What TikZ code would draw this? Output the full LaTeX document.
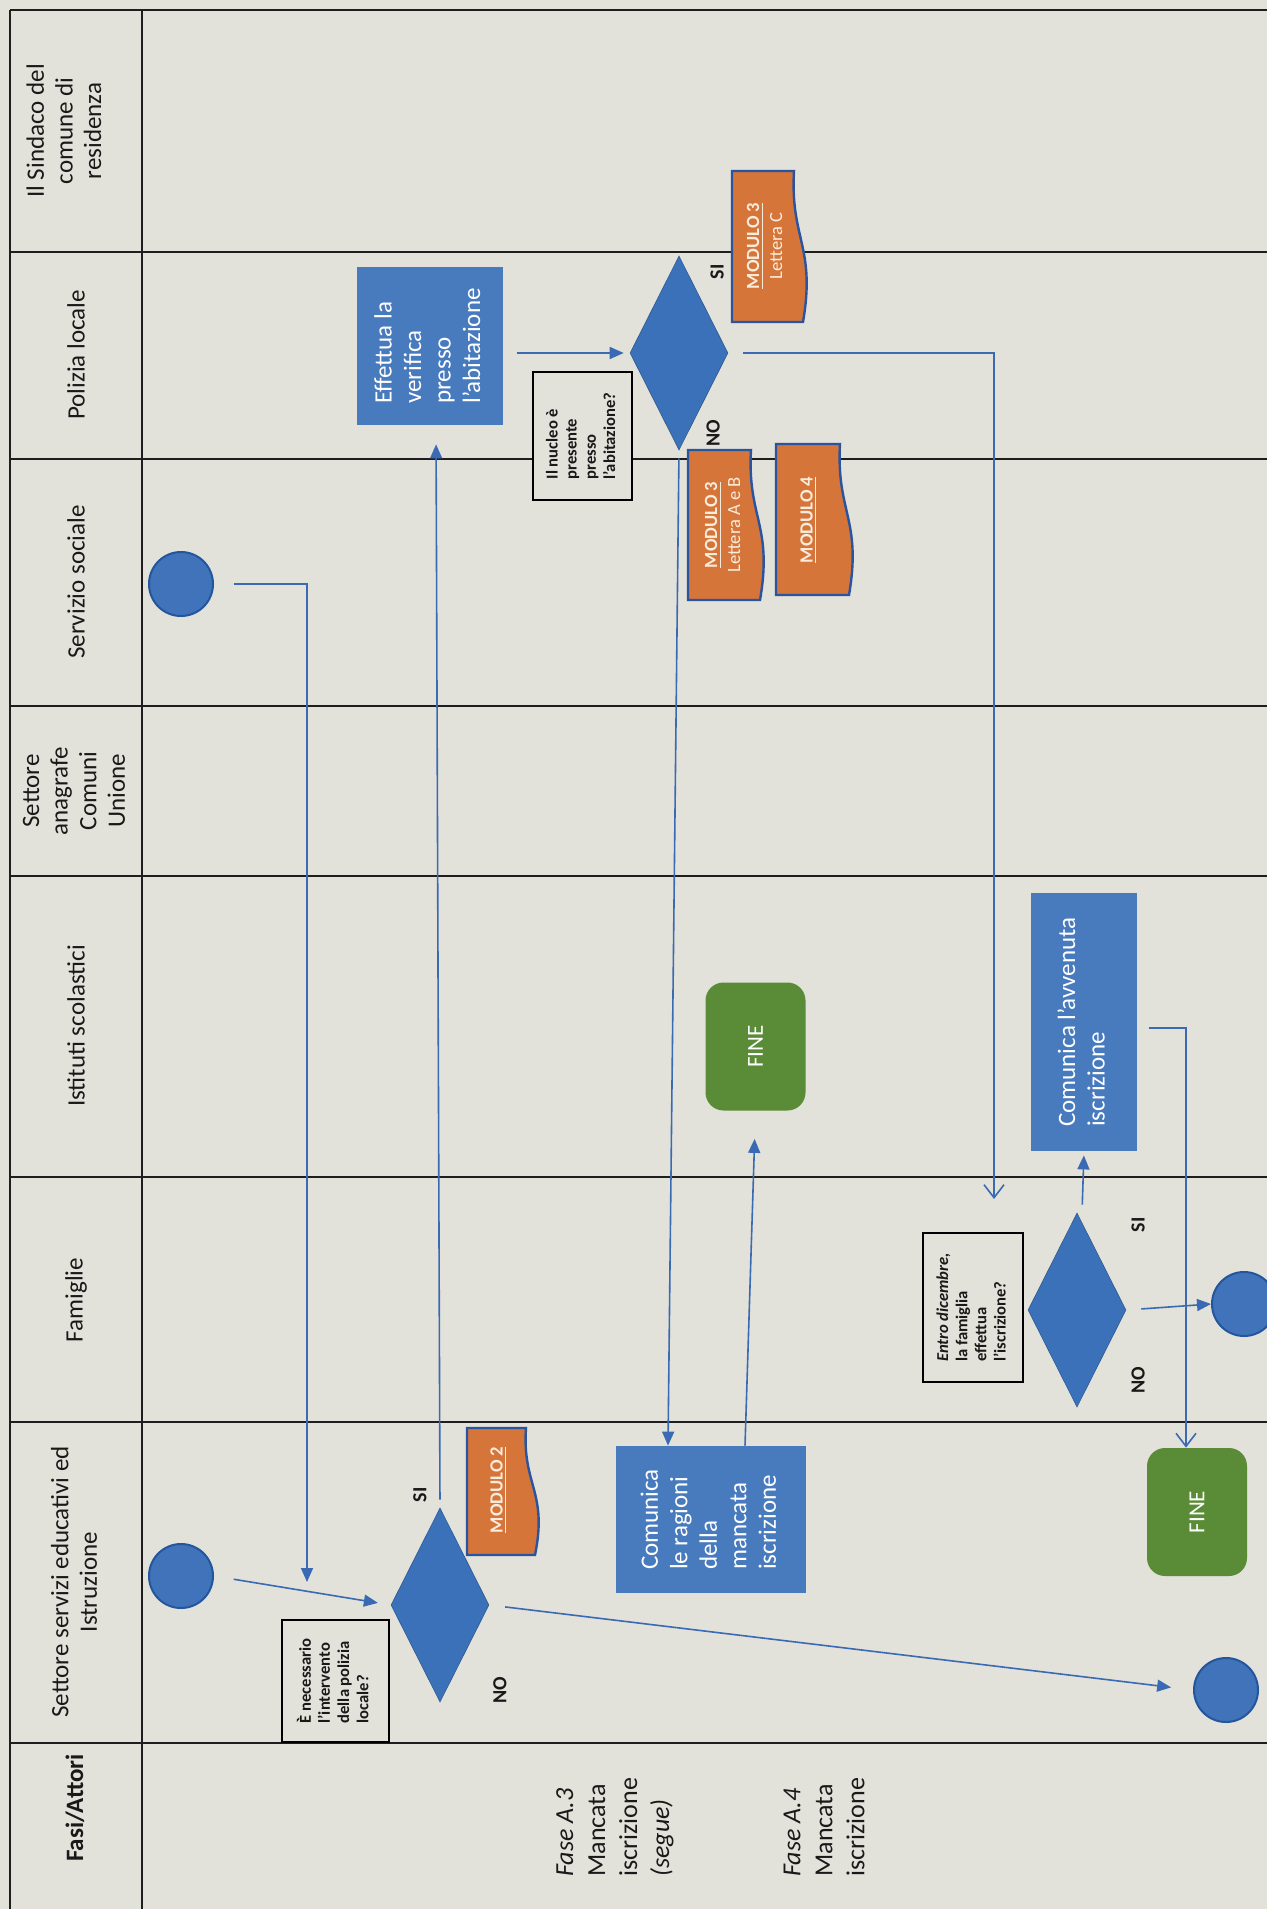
\documentclass[tikz,border=0pt]{standalone}
\usepackage{fontspec}
\setmainfont{Carlito}
\usepackage{graphicx}
\usetikzlibrary{arrows.meta,shapes.geometric}
\definecolor{paper}{RGB}{226,225,218}
\definecolor{ink}{RGB}{25,25,25}
\definecolor{gridc}{RGB}{30,30,30}
\definecolor{procblue}{RGB}{72,122,190}
\definecolor{decblue}{RGB}{58,113,184}
\definecolor{circblue}{RGB}{64,115,186}
\definecolor{circborder}{RGB}{36,86,158}
\definecolor{finegreen}{RGB}{90,140,55}
\definecolor{modorange}{RGB}{214,117,58}
\definecolor{modborder}{RGB}{40,84,160}
\definecolor{modtextc}{RGB}{248,236,220}
\definecolor{flowc}{RGB}{58,106,180}
\newcommand{\vtext}[2][c]{\rotatebox{90}{\begin{tabular}{@{}#1@{}}#2\end{tabular}}}
\newcommand{\docshape}[4]{\path[modshape] (#1,#2) -- ({#3-12},#2) .. controls ({#3-16},{#2+0.45*(#4-#2)}) and ({#3+10},{#2+0.5*(#4-#2)}) .. ({#3-3},#4) -- (#1,#4) -- cycle;}
\begin{document}
\begin{tikzpicture}[x=0.5pt,y=-0.5pt,
  laneline/.style={draw=gridc, line width=1.2pt},
  hdr/.style={rotate=90, align=center, font=\fontsize{12.5}{14.3}\selectfont, text=ink, inner sep=0pt},
  fase/.style={rotate=90, align=left, anchor=west, font=\fontsize{13}{16}\selectfont, text=ink, inner sep=0pt},
  procbox/.style={rectangle, fill=procblue, text=white, inner sep=0pt, font=\fontsize{12.5}{14.75}\selectfont},
  notebox/.style={rectangle, draw=black, fill=paper, line width=0.9pt, inner sep=0pt, font=\bfseries\fontsize{8.3}{9.6}\selectfont, text=ink},
  dec/.style={diamond, fill=decblue, draw=decblue!80!black, line width=0.3pt, inner sep=0pt, minimum width=49pt, minimum height=97pt},
  term/.style={circle, fill=circblue, draw=circborder, line width=1pt, inner sep=0pt, minimum size=32pt},
  finebox/.style={rectangle, rounded corners=9pt, fill=finegreen, text=white, inner sep=0pt, minimum width=50pt, minimum height=64pt, font=\fontsize{11.5}{14}\selectfont},
  modshape/.style={fill=modorange, draw=modborder, line width=1.2pt},
  modtext/.style={text=modtextc, inner sep=0pt, font=\fontsize{9.3}{11.5}\selectfont},
  yn/.style={rotate=90, font=\bfseries\fontsize{10}{12}\selectfont, text=ink, inner sep=0pt},
  flow/.style={draw=flowc, line width=0.8pt, -{Triangle[length=7pt,width=6pt]}},
  flowopen/.style={draw=flowc, line width=0.8pt, -{Straight Barb[length=6.5pt,width=10pt]}},
]
\fill[paper] (0,0) rectangle (1267,1909);
\useasboundingbox (0,0) rectangle (1267,1909);

% lane lines
\draw[laneline] (10,10) -- (10,1909);
\draw[laneline] (142,10) -- (142,1909);
\foreach \yy in {10,252,459,706,876,1177,1422,1743} \draw[laneline] (10,\yy) -- (1267,\yy);

% headers
\node[hdr] (hSind) at (64,131) {Il Sindaco del\\comune di\\residenza};
\node[hdr] (hPol) at (76,355) {Polizia locale};
\node[hdr] (hSoc) at (76,582) {Servizio sociale};
\node[hdr] (hAna) at (74,791) {Settore\\anagrafe\\Comuni\\Unione};
\node[hdr] (hIst) at (76,1026) {Istituti scolastici};
\node[hdr] (hFam) at (76,1300) {Famiglie};
\node[hdr] (hSet) at (74,1582) {Settore servizi educativi ed\\Istruzione};
\node[hdr, font=\bfseries\fontsize{12.5}{14.3}\selectfont] (hFasi) at (75,1808) {Fasi/Attori};

% phases
\node[fase] (f3) at (615,1877) {\textit{Fase A.3}\\Mancata\\iscrizione\\\textit{(segue)}};
\node[fase] (f4) at (824,1877) {\textit{Fase A.4}\\Mancata\\iscrizione};

% start circles
\node[term] (cSS) at (181,584) {};
\node[term] (cSE) at (181,1576) {};
\node[term] (c3) at (1244,1304) {};
\node[term] (c4) at (1226,1690) {};

% diamonds
\node[dec] (d1) at (440,1605) {};
\node[dec] (d2) at (679,353) {};
\node[dec] (d3) at (1077,1310) {};

% notes
\node[notebox, minimum width=53.5pt, minimum height=61pt] (n1) at (335.5,1681) {\vtext[l]{È necessario\\l'intervento\\della polizia\\locale?}};
\node[notebox, minimum width=49.5pt, minimum height=64pt] (n2) at (582.5,436) {\vtext[l]{Il nucleo è\\presente\\presso\\l'abitazione?}};
\node[notebox, minimum width=50pt, minimum height=74.5pt] (n3) at (973,1307.5) {\vtext[l]{\textit{Entro dicembre,}\\la famiglia\\effettua\\l'iscrizione?}};

% yes/no labels
\node[yn] (si1) at (420,1495) {SI};
\node[yn] (no1) at (500,1690) {NO};
\node[yn] (si2) at (717,272) {SI};
\node[yn] (no2) at (713,433) {NO};
\node[yn] (si3) at (1138,1225) {SI};
\node[yn] (no3) at (1138,1380) {NO};

% process boxes
\node[procbox, minimum width=73pt, minimum height=79pt] (eff) at (430,346) {\vtext[l]{Effettua la\\verifica\\presso\\l'abitazione}};
\node[procbox, minimum width=95pt, minimum height=73.5pt] (rag) at (711,1519.5) {\vtext[l]{Comunica\\le ragioni\\della\\mancata\\iscrizione}};
\node[procbox, minimum width=53pt, minimum height=129pt] (avv) at (1084,1022) {\vtext[l]{Comunica l'avvenuta\\iscrizione}};

% end boxes
\node[finebox] (fine1) at (755.5,1046.5) {\rotatebox{90}{FINE}};
\node[finebox] (fine2) at (1197,1512) {\rotatebox{90}{FINE}};

% document shapes
\docshape{467}{1428}{538}{1555}
\node[modtext] (m2) at (498,1490) {\vtext{\textbf{\underline{MODULO 2}}}};
\docshape{732}{171}{806}{322}
\node[modtext] (m3c) at (766,246) {\vtext{\textbf{\underline{MODULO 3}}\\Lettera C}};
\docshape{688}{450}{763}{600}
\node[modtext] (m3ab) at (724,525) {\vtext{\textbf{\underline{MODULO 3}}\\Lettera A e B}};
\docshape{776}{444}{852}{595}
\node[modtext] (m4) at (808,520) {\vtext{\textbf{\underline{MODULO 4}}}};

% connectors
\coordinate (j1) at (307,1582);
\draw[flow] ([xshift=10pt]cSS.east) -| (j1);
\draw[flow, shorten <=10pt, shorten >=6.5pt] (cSE.east) -- (d1.west);
\draw[flow, shorten <=4pt, shorten >=9.5pt] (d1.north) -- ([xshift=3pt]eff.south);
\draw[flow, shorten <=7pt, shorten >=3pt] (eff.east |- d2.west) -- (d2.west);
\draw[flow, shorten <=4pt] (d2.south) -- ([xshift=-21.5pt]rag.north);
\draw[flow, shorten >=14pt] ([xshift=17pt]rag.north) -- (fine1.south);
\coordinate (j2) at (994,1199);
\draw[flowopen] ([xshift=7.5pt]d2.east) -| (j2);
\draw[flow, shorten <=4pt, shorten >=2pt] ([xshift=2.5pt]d3.north) -- (avv.south);
\draw[flowopen, shorten <=6pt] ([yshift=-3pt]avv.east) -| ([xshift=-5.5pt]fine2.north);
\draw[flow, shorten <=7.5pt] (d3.east) -- (c3.west);
\draw[flow, shorten <=8pt, shorten >=11pt] (d1.east) -- (c4.west);
\end{tikzpicture}
\end{document}
